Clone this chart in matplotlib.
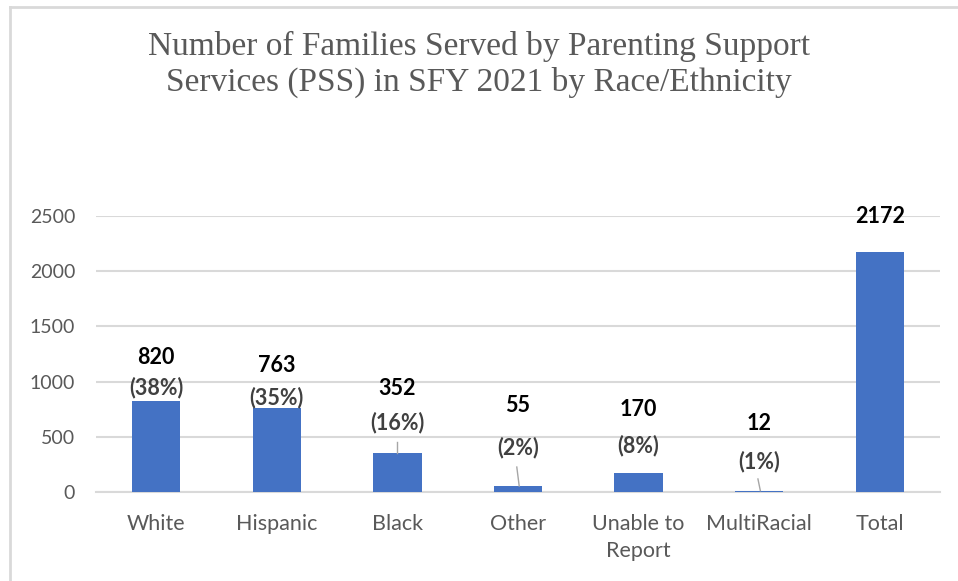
import matplotlib
matplotlib.use("Agg")
import matplotlib.pyplot as plt
from matplotlib.lines import Line2D

categories = ["White", "Hispanic", "Black", "Other", "Unable to\nReport", "MultiRacial", "Total"]
families = [820, 763, 352, 55, 170, 12, 2172]
percent_labels = ["(38%)", "(35%)", "(16%)", "(2%)", "(8%)", "(1%)", None]
y_ticks = [0, 500, 1000, 1500, 2000, 2500]

# label placement (data units) for the count and the share above each bar
count_label_y = [1214, 1150, 942, 788, 743, 625, 2491]
pct_label_y = [942, 860, 625, 399, 417, 272, None]
# leader lines (x0, y0, x1, y1) for labels that float away from their bar
leaders = [(2, 450, 2, 353), (2.99, 226, 3.01, 54), (4.99, 118, 5.01, 12)]

BLUE = "#4472C4"
GRID = "#D9D9D9"
TEXT = "#595959"

fig = plt.figure(figsize=(9.58, 5.81), dpi=100)
ax = fig.add_axes([96 / 958, 1 - 492 / 581, (940 - 96) / 958, (492 - 216) / 581])

x = list(range(len(categories)))
ax.bar(x, families, width=0.40, color=BLUE, zorder=3)

ax.set_xlim(-0.5, len(categories) - 0.5)
ax.set_ylim(0, 2500)
ax.set_yticks(y_ticks)
ax.set_yticklabels([str(t) for t in y_ticks])
ax.set_xticks(x)
ax.set_xticklabels(categories, linespacing=1.45)
ax.grid(axis="y", color=GRID, linewidth=1.5, zorder=0)
for side in ["left", "right", "top"]:
    ax.spines[side].set_visible(False)
ax.spines["bottom"].set_color(GRID)
ax.spines["bottom"].set_linewidth(1.5)
ax.tick_params(axis="both", length=0, labelcolor=TEXT)
ax.tick_params(axis="y", pad=15, labelsize=14)
ax.tick_params(axis="x", pad=16, labelsize=15.5)
for lbl in ax.get_xticklabels() + ax.get_yticklabels():
    lbl.set_fontfamily("Lato")

for i, (v, cy) in enumerate(zip(families, count_label_y)):
    ax.text(i, cy, str(v), ha="center", va="center", fontsize=15.5,
            fontweight="bold", color="black", family="Lato", clip_on=False, zorder=5)
    if percent_labels[i]:
        ax.text(i, pct_label_y[i], percent_labels[i], ha="center", va="center",
                fontsize=15.5, fontweight="bold", color="#404040", family="Lato", zorder=5)

for x0, y0, x1, y1 in leaders:
    ax.plot([x0, x1], [y0, y1], color="#A6A6A6", linewidth=1, zorder=4)

fig.text(0.5, 1 - 64 / 581,
         "Number of Families Served by Parenting Support\nServices (PSS) in SFY 2021 by Race/Ethnicity",
         ha="center", va="center", fontsize=24, color=TEXT, family="Liberation Serif",
         linespacing=1.2)

# chart-area frame
fig.add_artist(Line2D([10 / 958, 10 / 958], [0, 1 - 7 / 581], transform=fig.transFigure,
                      color="#D9D9D9", linewidth=2))
fig.add_artist(Line2D([10 / 958, 1], [1 - 7 / 581, 1 - 7 / 581], transform=fig.transFigure,
                      color="#D9D9D9", linewidth=2))

fig.savefig("out.png", dpi=100)
